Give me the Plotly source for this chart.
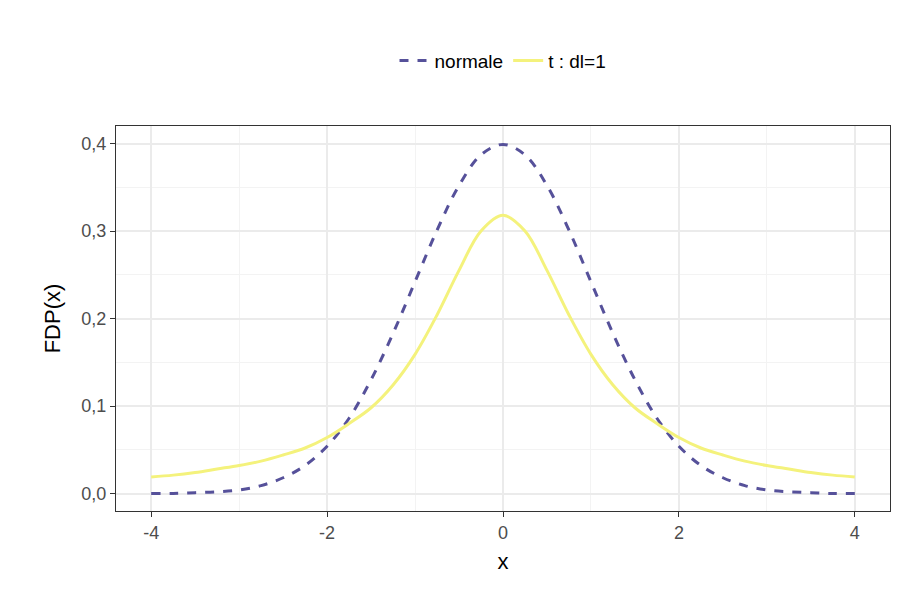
import plotly.graph_objects as go

# values
x = [-4, -3.75, -3.5, -3.25, -3, -2.75, -2.5, -2.25, -2, -1.75, -1.5, -1.25, -1, -0.75, -0.5, -0.25,
     0, 0.25, 0.5, 0.75, 1, 1.25, 1.5, 1.75, 2, 2.25, 2.5, 2.75, 3, 3.25, 3.5, 3.75, 4]
normale_half = [0.000, 0.000, 0.001, 0.002, 0.004, 0.009, 0.018, 0.032, 0.054, 0.086, 0.130,
                0.183, 0.242, 0.301, 0.352, 0.387]
t_half = [0.019, 0.021, 0.024, 0.028, 0.032, 0.037, 0.044, 0.052, 0.064, 0.080, 0.098,
          0.124, 0.159, 0.204, 0.255, 0.300]
normale = normale_half + [0.399] + normale_half[::-1]
t_dl1 = t_half + [0.318] + t_half[::-1]

fig = go.Figure()
fig.add_trace(go.Scatter(x=x, y=normale, mode="lines", name="normale",
                         line=dict(color="#56519a", width=3, dash="dash", shape="spline")))
fig.add_trace(go.Scatter(x=x, y=t_dl1, mode="lines", name="t : dl=1",
                         line=dict(color="#f4f27c", width=3, shape="spline")))

axis = dict(showline=True, mirror=True, linecolor="#333333", linewidth=1, automargin=False,
            gridcolor="#ebebeb", gridwidth=1.5, zeroline=False, ticks="outside",
            ticklen=5, tickcolor="#333333", tickfont=dict(size=18, color="#4d4d4d"),
            minor=dict(showgrid=True, gridcolor="#f3f3f3", gridwidth=1))
fig.update_xaxes(axis, range=[-4.4, 4.4], tickvals=[-4, -2, 0, 2, 4],
                 ticktext=["-4", "-2", "0", "2", "4"],
                 minor_tickvals=[-3, -1, 1, 3], minor_ticks="",
                 title=dict(text="x", font=dict(size=22, color="black"), standoff=12))
fig.update_yaxes(axis, range=[-0.02, 0.42], tickvals=[0, 0.1, 0.2, 0.3, 0.4],
                 tickformat=".1f", minor_tickvals=[0.05, 0.15, 0.25, 0.35], minor_ticks="",
                 title=dict(text="FDP(x)", font=dict(size=22, color="black"), standoff=14))
fig.update_layout(
    width=900, height=600, separators=", ",
    plot_bgcolor="white", paper_bgcolor="white",
    font=dict(family="Liberation Sans, Arial"),
    margin=dict(l=108, r=18, t=118, b=97),
    legend=dict(orientation="h", x=0.5, xanchor="center", y=1.17, yanchor="middle",
                font=dict(size=19, color="black")),
)
fig.write_html("out.html")
